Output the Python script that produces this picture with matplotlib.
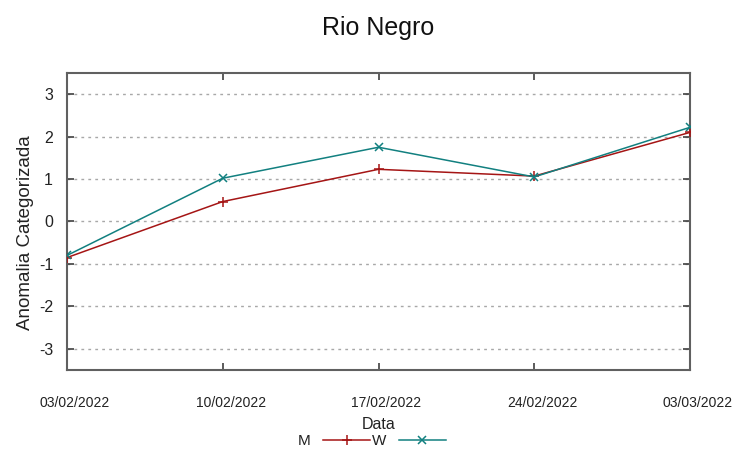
import matplotlib
matplotlib.use("Agg")
import matplotlib.pyplot as plt
import matplotlib.transforms as mtransforms

plt.rcParams['font.family'] = ['Liberation Sans', 'DejaVu Sans']

dates = ["03/02/2022", "10/02/2022", "17/02/2022", "24/02/2022", "03/03/2022"]
m_values = [-0.85, 0.47, 1.23, 1.07, 2.10]
w_values = [-0.80, 1.02, 1.75, 1.05, 2.22]
yticks = [-3, -2, -1, 0, 1, 2, 3]

fig = plt.figure(figsize=(7.53, 4.59), dpi=100)
ax = fig.add_axes([67/753, 1-370/459, (690-67)/753, (370-73)/459])

x = list(range(len(dates)))
lm, = ax.plot(x, m_values, color='#a51515', lw=1.1, marker='+', ms=7, mew=1.1, label='M', zorder=3)
lw_, = ax.plot(x, w_values, color='#128080', lw=1.1, marker='x', ms=6, mew=1.1, label='W', zorder=3)

ax.set_xlim(0, 4)
ax.set_ylim(-3.5, 3.5)
ax.set_yticks(yticks)
ax.set_yticklabels([str(v) for v in yticks])
ax.set_xticks(x)
ax.set_xticklabels(dates)

ax.yaxis.grid(True, color='#a8a8a8', linestyle=(0, (2, 3)), lw=1.0)
ax.set_axisbelow(True)

for s in ax.spines.values():
    s.set_color('#606060')
    s.set_linewidth(1.5)

ax.tick_params(axis='both', direction='in', length=5, width=1.2, color='#404040',
               top=True, right=True, labelcolor='#222222')
ax.tick_params(axis='x', pad=19, labelsize=10)
ax.tick_params(axis='y', pad=10, labelsize=11.5)

offset = mtransforms.ScaledTranslation(8/100, 0, fig.dpi_scale_trans)
for lab in ax.get_xticklabels():
    lab.set_transform(lab.get_transform() + offset)

ax.set_xlabel("Data", fontsize=11.5, labelpad=5, color='#222222')
ax.set_ylabel("Anomalia Categorizada", fontsize=13.5, color='#222222')
ax.yaxis.set_label_coords(-(67-34)/623, (370-233)/297)

fig.text(378/753, 1-28/459, "Rio Negro", ha='center', va='center', fontsize=18, color='#111111')

leg = fig.legend(handles=[lm, lw_], loc='center', bbox_to_anchor=(372/753, 1-441/459),
                 ncol=2, frameon=False, markerfirst=False, numpoints=1,
                 handlelength=3.1, handletextpad=0.8, columnspacing=0.1,
                 fontsize=11, borderpad=0, labelcolor='#222222')

fig.savefig("out.png", dpi=100)
